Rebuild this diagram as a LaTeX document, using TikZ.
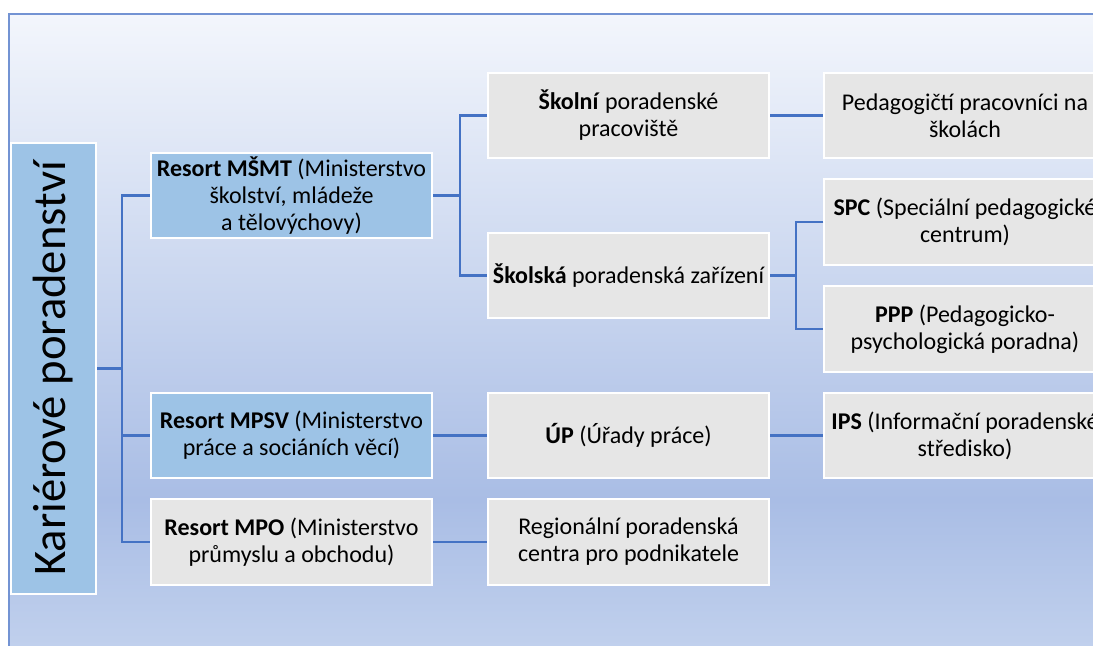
\documentclass[tikz,border=0pt]{standalone}
\usepackage{fontspec}
\setmainfont{Carlito}
\usetikzlibrary{positioning}

\definecolor{linkblue}{HTML}{4472C4}
\definecolor{frameblue}{HTML}{7393D3}
\definecolor{resortblue}{HTML}{9DC3E6}
\definecolor{unitgray}{HTML}{E6E6E6}
\definecolor{bgtop}{HTML}{F3F6FC}
\definecolor{bgdeep}{HTML}{A9BDE5}
\definecolor{bgbottom}{HTML}{C4D3EE}
\pgfdeclareverticalshading{bgfill}{100bp}{color(0bp)=(bgbottom); color(25bp)=(bgbottom); color(38bp)=(bgdeep); color(75bp)=(bgtop); color(100bp)=(bgtop)}

\tikzset{
  box/.style={draw=white, line width=1.5pt, align=center, inner sep=2pt,
    minimum width=211pt, minimum height=64pt, font=\fontsize{18}{20.25}\selectfont},
  resort/.style={box, fill=resortblue},
  unit/.style={box, fill=unitgray},
  link/.style={draw=linkblue, line width=1.7pt},
}

\begin{document}
\begin{tikzpicture}[x=0.75pt,y=-0.75pt]
      \useasboundingbox (0,0) rectangle (1093,646);
      \clip (0,0) rectangle (1093,646);
      \def\colA{291.5}
      \def\colB{628.5}
      \def\colC{965}
      % background
      \shade[shading=bgfill] (9,14) rectangle (1110,670);
      \draw[frameblue, line width=1.2pt] (1110,14) -- (9,14) -- (9,670);
      % boxes
      \node [resort, rotate=90, minimum width=338pt, minimum height=64pt,
        font=\fontsize{35}{40}\selectfont] (root) at (53.5,368.5) {Kariérové poradenství};
      \node [resort] (msmt) at (\colA,195.5) {\textbf{Resort MŠMT} (Ministerstvo\\školství, mládeže\\a tělovýchovy)};
      \node [resort] (mpsv) at (\colA,435.5) {\textbf{Resort MPSV} (Ministerstvo\\práce a sociáních věcí)};
      \node [unit] (mpo) at (\colA,542) {\textbf{Resort MPO} (Ministerstvo\\průmyslu a obchodu)};
      \node [unit] (skolni) at (\colB,115.5) {\textbf{Školní} poradenské\\pracoviště};
      \node [unit] (skolska) at (\colB,275.5) {\textbf{Školská} poradenská zařízení};
      \node [unit] (up) at (\colB,435.5) {\textbf{ÚP} (Úřady práce)};
      \node [unit] (rpc) at (\colB,542) {Regionální poradenská\\centra pro podnikatele};
      \node [unit] (ped) at (\colC,115.5) {Pedagogičtí pracovníci na\\školách};
      \node [unit] (spc) at (\colC,222) {\textbf{SPC} (Speciální pedagogické\\centrum)};
      \node [unit] (ppp) at (\colC,329) {\textbf{PPP} (Pedagogicko-\\psychologická poradna)};
      \node [unit] (ips) at (\colC,435.5) {\textbf{IPS} (Informační poradenské\\středisko)};
      % connectors
      \coordinate (busA) at (122,0);
      \coordinate (busB) at (460,0);
      \coordinate (busC) at (796,0);
      \draw[link] (root.south) -- (root.south -| busA);
      \draw[link] (msmt.west) -| (mpo.west -| busA) -- (mpo.west);
      \draw[link] (mpsv.west) -- (mpsv.west -| busA);
      \draw[link] (msmt.east) -- (msmt.east -| busB);
      \draw[link] (skolni.west) -| (skolska.west -| busB) -- (skolska.west);
      \draw[link] (skolni) -- (ped);
      \draw[link] (skolska.east) -- (skolska.east -| busC);
      \draw[link] (spc.west) -| (ppp.west -| busC) -- (ppp.west);
      \draw[link] (mpsv) -- (up);
      \draw[link] (up) -- (ips);
      \draw[link] (mpo) -- (rpc);
    \end{tikzpicture}
\end{document}
